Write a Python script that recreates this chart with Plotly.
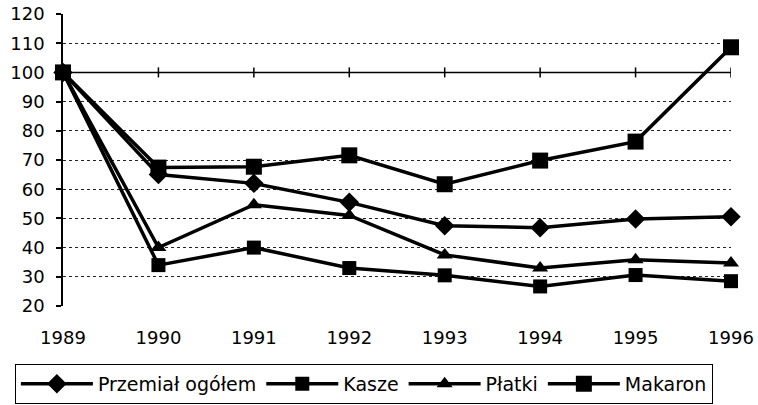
import plotly.graph_objects as go

years = [1989, 1990, 1991, 1992, 1993, 1994, 1995, 1996]
przemial = [100, 65, 62, 55.5, 47.5, 46.8, 49.8, 50.6]
kasze = [100, 34, 40, 33, 30.5, 26.7, 30.6, 28.5]
platki = [100, 40, 54.7, 51, 37.5, 33, 35.8, 34.7]
makaron = [100, 67.4, 67.7, 71.6, 61.7, 69.8, 76.3, 108.6]
y_ticks = list(range(20, 121, 10))
grid_vals = [30, 40, 50, 60, 70, 80, 90, 110]
ref_value = 100

series = [
    ("Przemiał ogółem", przemial, "diamond", 15),
    ("Kasze", kasze, "square", 14),
    ("Płatki", platki, "triangle-up", 14),
    ("Makaron", makaron, "square", 16),
]

fig = go.Figure()
for name, vals, sym, size in series:
    fig.add_trace(go.Scatter(
        x=years, y=vals, name=name, mode="lines+markers",
        line=dict(color="black", width=3.5),
        marker=dict(symbol=sym, size=size, color="black"),
        cliponaxis=False,
    ))

# reference line at 100 with crossing tick marks
fig.add_shape(type="line", xref="x", yref="y", x0=years[0], x1=years[-1],
              y0=ref_value, y1=ref_value, line=dict(color="black", width=1.5))
for yr in years[1:]:
    fig.add_shape(type="line", xref="x", yref="y", ysizemode="pixel",
                  yanchor=ref_value, x0=yr, x1=yr, y0=-5, y1=5,
                  line=dict(color="black", width=1.5))

font = dict(family="DejaVu Sans, sans-serif", size=18, color="black")

fig.update_layout(
    width=758, height=405,
    margin=dict(l=63, r=27, t=14, b=99, autoexpand=False),
    paper_bgcolor="white", plot_bgcolor="white",
    font=font,
    showlegend=True,
    legend=dict(
        orientation="h", x=-0.072, xanchor="left", y=-0.198, yanchor="top",
        bordercolor="black", borderwidth=1,
        font=dict(family="DejaVu Sans, sans-serif", size=19, color="black"),
        itemwidth=72, tracegroupgap=0,
    ),
    xaxis=dict(
        range=[years[0], years[-1]], tickvals=years, ticktext=[str(y) for y in years],
        showline=False, showgrid=False, zeroline=False, ticks="",
        ticklabelstandoff=19, tickfont=font, automargin=False,
    ),
    yaxis=dict(
        range=[20, 120], tickvals=y_ticks, showline=True, linecolor="black",
        linewidth=1.5, ticks="outside", ticklen=5, tickcolor="black", tickwidth=1.5,
        showgrid=False, zeroline=False, ticklabelstandoff=8, tickfont=font,
        automargin=False,
        minor=dict(tickvals=grid_vals, showgrid=True, gridcolor="#222",
                   griddash="dot", gridwidth=1, ticks=""),
    ),
)

fig.write_html("out.html", config={"displayModeBar": False},
               post_script="document.body.style.margin='0px';")
